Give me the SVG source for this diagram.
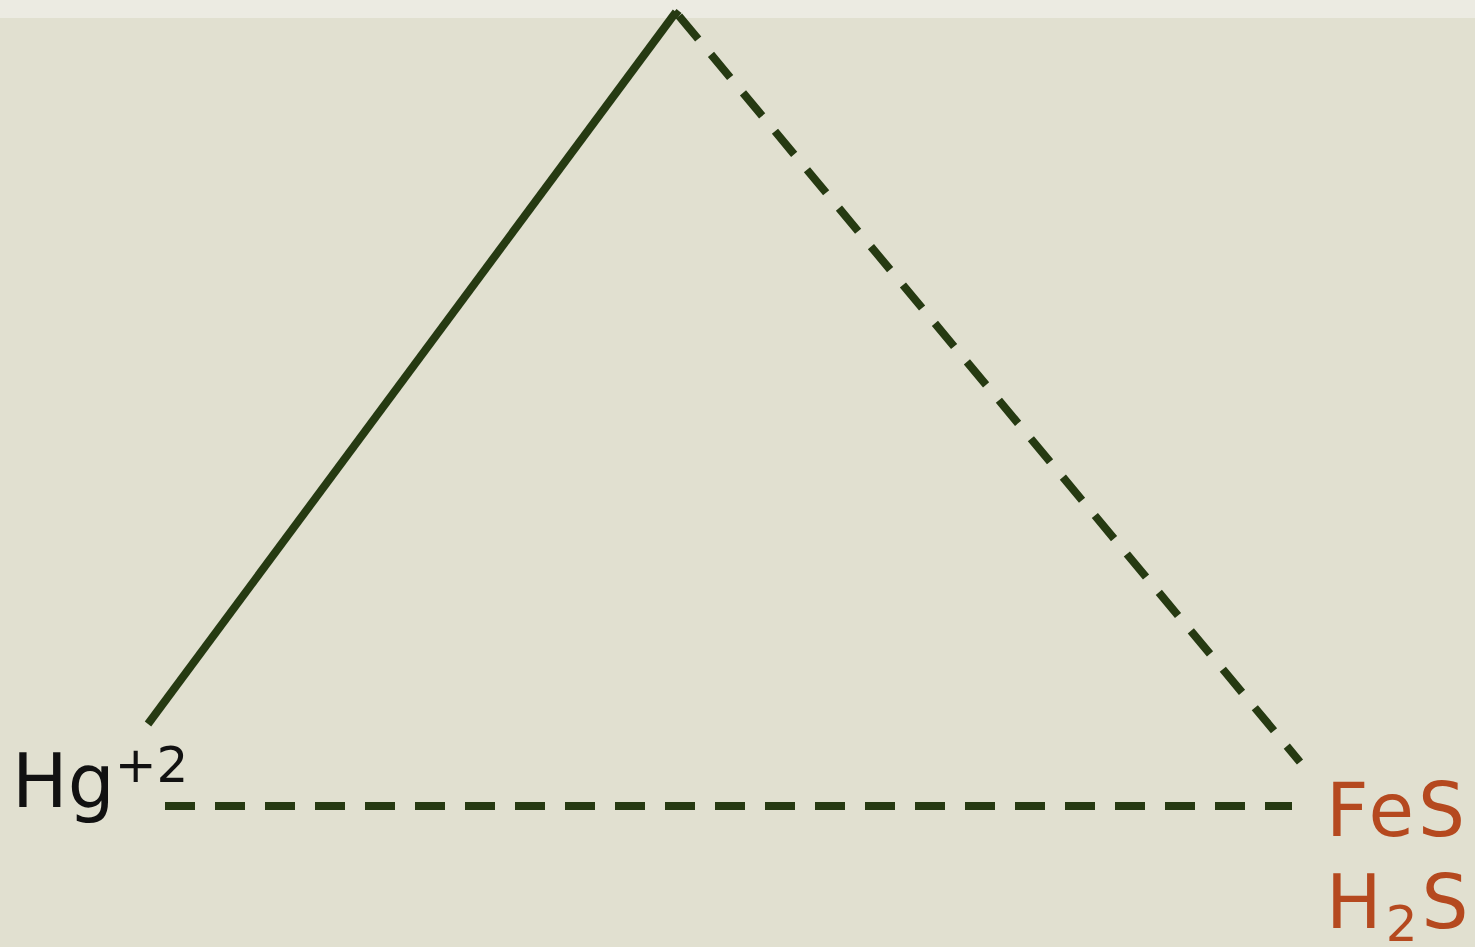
<svg xmlns="http://www.w3.org/2000/svg" width="1475" height="947" viewBox="0 0 1475 947">
<style>
.ln{stroke:#263A12;stroke-width:8;fill:none}
.dash{stroke-dasharray:30 20}
.t{font-family:"DejaVu Sans",Verdana,sans-serif;font-size:74px}
.r{fill:#B5491F;letter-spacing:4px}
</style>
<rect width="1475" height="947" fill="#E1E0D0"/>
<rect width="1475" height="18" fill="#ECEBE2"/>
<g id="connectors">
<polyline class="ln" points="148,724 676,12"/>
<polyline class="ln" points="674,12 679,16"/>
<line class="ln dash" x1="679" y1="16" x2="1300" y2="762"/>
<line class="ln dash" x1="165" y1="806" x2="1292" y2="806"/>
</g>
<g id="hg">
<text class="t" x="12" y="807" fill="#111">Hg<tspan font-size="50" dy="-25">+2</tspan></text>
</g>
<g id="fes">
<text class="t r" x="1326" y="836">FeS</text>
<text class="t r" x="1326" y="928">H<tspan font-size="50" dy="13">2</tspan><tspan dy="-13">S</tspan></text>
</g>
</svg>
